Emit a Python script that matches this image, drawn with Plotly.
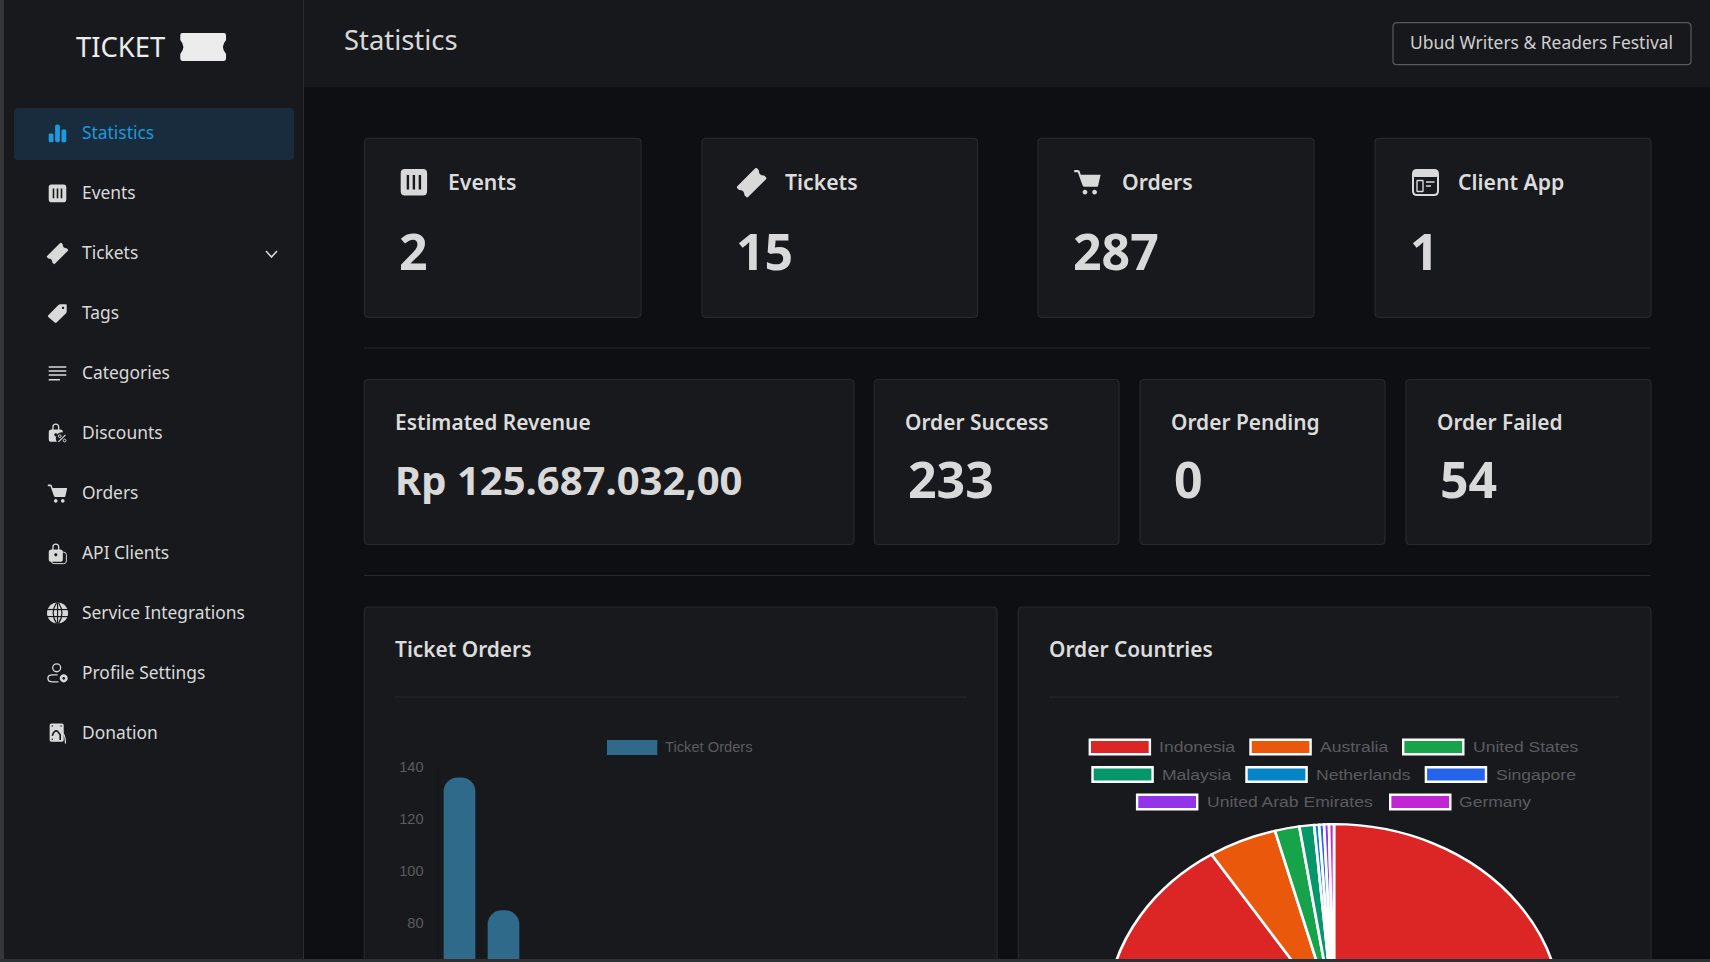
import re
import math
import plotly.graph_objects as go

# ---------- data ----------
ticket_labels = [f"Ticket {i}" for i in range(1, 13)]
# only the first two bars reach the visible part of the canvas
ticket_orders = [136, 85, None, None, None, None, None, None, None, None, None, None]
y_ticks = [80, 100, 120, 140]
countries = ["Indonesia", "Australia", "United States", "Malaysia", "Netherlands",
             "Singapore", "United Arab Emirates", "Germany"]
country_orders = [261, 14, 5, 3, 1, 1, 1, 1]
country_colors = ["#dc2626", "#ea580c", "#16a34a", "#059669", "#0284c7", "#2563eb", "#9333ea", "#c026d3"]
menu_items = ["Statistics", "Events", "Tickets", "Tags", "Categories", "Discounts", "Orders",
              "API Clients", "Service Integrations", "Profile Settings", "Donation"]
top_titles = ["Events", "Tickets", "Orders", "Client App"]
top_values = ["2", "15", "287", "1"]
mid_titles = ["Estimated Revenue", "Order Success", "Order Pending", "Order Failed"]
mid_values = ["Rp 125.687.032,00", "233", "0", "54"]

# ---------- page geometry ----------
W, H = 1710, 1220          # canvas taller than the window; the page clips at 962
BG, PANEL, EDGE = "#0e0f12", "#18191d", "#27282c"
LIGHT = "#d9d9d9"
BLUE = "#1f98dc"
FONT = "Noto Sans"
CHART_FONT = "Liberation Sans"
X = lambda x: x / W
Y = lambda y: 1 - y / H
shapes, notes = [], []


def path(d, fill=None, line=None, width=0, layer="below"):
    def conv(m):
        return f"{X(float(m.group(1))):.6f},{Y(float(m.group(2))):.6f}"
    dd = re.sub(r"(-?[\d.]+)[ ,](-?[\d.]+)", conv, d)
    shapes.append(dict(type="path", path=dd, xref="paper", yref="paper", layer=layer,
                       fillcolor=fill or "rgba(0,0,0,0)",
                       line=dict(color=line or "rgba(0,0,0,0)", width=width)))


def rr(x0, y0, x1, y1, r=0):
    if r == 0:
        return f"M{x0} {y0} L{x1} {y0} L{x1} {y1} L{x0} {y1} Z "
    return (f"M{x0+r} {y0} L{x1-r} {y0} Q{x1} {y0} {x1} {y0+r} L{x1} {y1-r} Q{x1} {y1} {x1-r} {y1} "
            f"L{x0+r} {y1} Q{x0} {y1} {x0} {y1-r} L{x0} {y0+r} Q{x0} {y0} {x0+r} {y0} Z ")


def circ(cx, cy, r):
    k = 0.5523 * r
    return (f"M{cx-r} {cy} C{cx-r} {cy-k} {cx-k} {cy-r} {cx} {cy-r} C{cx+k} {cy-r} {cx+r} {cy-k} {cx+r} {cy} "
            f"C{cx+r} {cy+k} {cx+k} {cy+r} {cx} {cy+r} C{cx-k} {cy+r} {cx-r} {cy+k} {cx-r} {cy} Z ")


def place(d, x0, y0, sx, sy=None):
    sy = sy or sx
    def conv(m):
        return f"{x0+float(m.group(1))*sx:.2f} {y0+float(m.group(2))*sy:.2f}"
    return re.sub(r"(-?[\d.]+)[ ,](-?[\d.]+)", conv, d)


def rotate(d, deg):
    a = math.radians(deg)
    def conv(m):
        x, y = float(m.group(1)) - 12, float(m.group(2)) - 12
        return f"{12+x*math.cos(a)-y*math.sin(a):.3f} {12+x*math.sin(a)+y*math.cos(a):.3f}"
    return re.sub(r"(-?[\d.]+)[ ,](-?[\d.]+)", conv, d)


def text(x, y, s, size, color=LIGHT, weight=400, font=FONT, anchor="left"):
    notes.append(dict(x=X(x), y=Y(y), xref="paper", yref="paper", text=s, showarrow=False,
                      xanchor=anchor, yanchor="middle", borderpad=0,
                      font=dict(family=font, size=size, color=color, weight=weight)))


TICKET = ("M2 6 L22 6 Q23 6 23 7 L23 9 Q20 12 23 15 L23 17 Q23 18 22 18 L2 18 Q1 18 1 17 "
          "L1 15 Q4 12 1 9 L1 7 Q1 6 2 6 Z")
I_BARS = rr(1, 12, 7, 23, 1.5) + rr(9, 1, 15, 23, 2.5) + rr(17, 7, 23, 23, 1.5)
I_EVENTS = rr(1, 1, 23, 23, 3.5) + rr(6, 6, 8, 18) + rr(11, 6, 13, 18) + rr(16, 6, 18, 18)
I_TICKET = rotate(TICKET, -45)
I_TAG = ("M2 14 L13 3 Q14 2 15 2 L21 2 Q22 2 22 3 L22 10 Q22 11 21 12 L11 22 Q10 23 9 22 L2 16 Q1 15 2 14 Z "
         + circ(18, 6, 1.3))
I_LINES = rr(1, 3, 23, 5) + rr(1, 8, 23, 10) + rr(1, 13, 23, 15) + rr(1, 19, 15, 21)
I_CART = ("M1 2 L4 2 Q5 2 5.5 3 L6.5 6 L23 6 L21 15 Q21 16 20 16 L9.5 16 Q8.5 16 8 15 L4 4 L1 4 Z "
          + circ(10, 20.5, 2) + circ(18, 20.5, 2))
I_BAG = rr(2, 8, 18, 22, 3) + circ(10, 14, 1.8)
I_DOC = rr(3, 1, 19, 22, 2) + circ(6, 4, 0.9) + circ(16, 4, 0.9) + circ(6, 19, 0.9)
HANDLE = "M6 8 L6 5 Q6 1 10 1 Q14 1 14 5 L14 8 L12.5 8 L12.5 5 Q12.5 2.5 10 2.5 Q7.5 2.5 7.5 5 L7.5 8 Z"
icons = [I_BARS, I_EVENTS, I_TICKET, I_TAG, I_LINES, None, I_CART, None, None, None, None]

# ---------- page frame ----------
path(rr(4, 0, 303, H), PANEL)                      # sidebar
path(rr(303, 0, 304, H), "#2d2e32")
path(rr(304, 0, W, 87), "#17181c")                 # top bar
path(rr(14, 108, 294, 160, 4), "#182c3d")          # active menu item

# logo
text(75, 46.5, "TICKET", 27.4, "#ececec")
path(place(TICKET, 178.2, 19, 2.08, 2.33), "#ececec")

# menu
ICX, IC0, ICY = 47, 0.88, 10.5
for i, name in enumerate(menu_items):
    cy = 132.4 + 60 * i
    col = BLUE if i == 0 else LIGHT
    text(80.5, cy, name, 17.4, col)
    if icons[i]:
        s = 0.92 if i in (2, 3) else (0.88 if i == 6 else 0.8)
        path(place(icons[i], 57.5 - 12 * s, cy + 1 - 12 * s, s), col)
# Discounts: bag and percent mark
cy = 433
path(place(I_BAG + HANDLE, ICX, cy - ICY, IC0), LIGHT)
path(place(circ(17, 18, 7), ICX, cy - ICY, IC0), PANEL)
path(place("M13 22 L21 14", ICX, cy - ICY, IC0), None, LIGHT, 1.2)
path(place(circ(14.5, 15.5, 1.6) + circ(20, 20.5, 1.6), ICX, cy - ICY, IC0), None, LIGHT, 1)
# API clients: lock bag
cy = 553
path(place(rr(5, 11, 22, 24, 3), ICX, cy - ICY, IC0), None, LIGHT, 1)
path(place(I_BAG + HANDLE, ICX, cy - ICY, IC0), LIGHT)
# Service integrations: globe
cy = 613
path(place(circ(12, 12, 12), ICX, cy - ICY, IC0), LIGHT)
for seg in ["M0 8 L24 8", "M0 16 L24 16", "M12 0 L12 24",
            "M11 0 Q3 12 11 24", "M13 0 Q21 12 13 24"]:
    path(place(seg, ICX, cy - ICY, IC0), None, PANEL, 1.2)
# Profile settings
cy = 673
path(place(circ(11, 6, 4.5), ICX, cy - ICY, IC0), None, LIGHT, 1.3)
path(place("M12 14 L6 14 Q1 14 1 18 Q1 22 6 22 L13 22", ICX, cy - ICY, IC0), None, LIGHT, 1.3)
path(place(circ(19, 18, 4.6) + circ(19, 18, 1.6), ICX, cy - ICY, IC0), LIGHT)
# Donation
cy = 733
path(place(I_DOC, ICX, cy - ICY, IC0), LIGHT)
path(place("M6 15 Q8 8 12 10 L15 14 L15 20", ICX, cy - ICY, IC0), None, PANEL, 1.6)
path(place("M15 10 Q21 12 21 24", ICX, cy - ICY, IC0), None, LIGHT, 1.2)
# chevron on the Tickets row
path("M266 251 L271.5 257 L277 251", None, "#d5d5d5", 1.6)

# header
text(342.8, 39.5, "Statistics", 27.4, "#d8d8d8")
path(rr(1393, 22.7, 1691, 64.7, 4), None, "#585a5f", 1.2)
text(1409, 42.4, "Ubud Writers & Readers Festival", 17.45, "#cfcfcf")


def card(x0, y0, x1, y1):
    path(rr(x0, y0, x1, y1, 4), PANEL, EDGE, 1.2)


# top cards
top_x = [(364.5, 641), (702, 977.5), (1038, 1314), (1375, 1651)]
top_title_x = [446.6, 783.5, 1120.6, 1457.2]
top_value_x = [398, 735, 1071.5, 1408.5]
for (a, b), tx, vx, t, v in zip(top_x, top_title_x, top_value_x, top_titles, top_values):
    card(a, 138.3, b, 317.3)
    text(tx, 181.2, t, 21.2, "#dcdcdc", 600)
    text(vx, 251, v, 50, "#d9d9d9", 700)
path(place(I_EVENTS, 399.5, 167.8, 1.2), "#d9d9d9")
path(place(I_TICKET, 736.4, 167.5, 1.27), "#d9d9d9")
path(place(I_CART, 1073, 167.5, 1.2), "#d9d9d9")
path(rr(1413, 170, 1438, 195, 4), None, "#d9d9d9", 2)
path(rr(1413, 170, 1438, 177, 2), "#d9d9d9")
path(rr(1417, 180.5, 1423, 191.5, 0.5), None, "#d9d9d9", 1.4)
path("M1426 182 L1434.5 182 M1426 186 L1431 186", None, "#d9d9d9", 1.4)

# dividers
path(rr(364, 347.5, 1651, 348.5), "#26272b")
path(rr(364, 575, 1651, 576), "#26272b")

# middle cards
mid_x = [(364.3, 854), (874.3, 1119), (1140, 1385), (1406, 1651)]
mid_title_x = [394, 904, 1170, 1436]
mid_value_x = [393.8, 906.7, 1172.7, 1438.7]
mid_size = [40, 50, 50, 50]
for (a, b), tx, vx, t, v, fs in zip(mid_x, mid_title_x, mid_value_x, mid_titles, mid_values, mid_size):
    card(a, 379.5, b, 544.5)
    text(tx, 422, t, 20.9, "#dcdcdc", 600)
    text(vx, 479.4, v, fs, "#d9d9d9", 700)

# chart panels
card(364.3, 607, 997, H - 5)
card(1018.3, 607, 1651, H - 5)
text(393.8, 648.8, "Ticket Orders", 20.9, "#dcdcdc", 600)
text(1048, 648.8, "Order Countries", 20.9, "#dcdcdc", 600)
path(rr(395, 696.5, 967, 697.5), "#2a2b2f")
path(rr(1049, 696.5, 1619, 697.5), "#2a2b2f")

# legends (swatch + label, chart.js style boxes)
LEG_TXT = "#5b5b60"
BAR_COLOR = "#306a8b"
path(rr(607, 740, 657.3, 755), BAR_COLOR)
text(664, 747, "Ticket Orders", 14.7, LEG_TXT, font=CHART_FONT)
leg_pos = [(1088.6, 1158.7, 747), (1249.3, 1319.4, 747), (1402, 1472, 747),
           (1091.3, 1161.8, 774.5), (1245.3, 1315.8, 774.5), (1424.7, 1495.3, 774.5),
           (1135.9, 1206, 802), (1389, 1458.7, 802)]
for (sx, tx, cy), name, col in zip(leg_pos, countries, country_colors):
    path(rr(sx + 1.2, cy - 7.3, sx + 61.3, cy + 7.3), col, "#ffffff", 2.4)
    text(tx - 0.5, cy, name, 14.8, LEG_TXT, font=CHART_FONT)

# window edges, above the pie
path(rr(0, 0, 4, H), "#34363a", layer="above")
path(rr(0, 959, W, H), "#2e3034", layer="above")

# ---------- charts ----------
y_zero, y_top = 1131.7, 767
# the reference's pie canvas is stretched sideways
pie_cx, pie_cy, pie_r, pie_stretch = 1334, 1016, 191.8, 1.185
fig = go.Figure()
fig.add_trace(go.Bar(x=ticket_labels, y=ticket_orders, marker=dict(color=BAR_COLOR, cornerradius=14),
                     name="Ticket Orders", showlegend=False))
fig.add_trace(go.Pie(labels=countries, values=country_orders, sort=False, direction="clockwise", rotation=0,
                     textinfo="none", showlegend=False,
                     marker=dict(colors=country_colors, line=dict(color="#ffffff", width=2.3)),
                     domain=dict(x=[X(pie_cx - pie_r), X(pie_cx + pie_r)],
                                 y=[Y(pie_cy + pie_r), Y(pie_cy - pie_r)])))
GRID = "rgba(0,0,0,0.04)"
fig.update_layout(
    template="none",
    width=W, height=H, margin=dict(l=0, r=0, t=0, b=0), autosize=False,
    paper_bgcolor=BG, plot_bgcolor="rgba(0,0,0,0)", bargap=0.28, showlegend=False,
    shapes=shapes, annotations=notes,
    xaxis=dict(domain=[X(437.5), X(965.5)], type="category", range=[-0.5, 11.5], tickson="boundaries",
               showgrid=True, gridcolor=GRID, showline=True, linecolor=GRID, showticklabels=False,
               ticks="", fixedrange=True, zeroline=False, automargin=False),
    yaxis=dict(domain=[Y(y_zero), Y(y_top)], range=[0, 140], tickvals=y_ticks, showgrid=True, gridcolor=GRID,
               showline=True, linecolor="rgba(0,0,0,0.2)", ticks="outside", ticklen=10, tickcolor=GRID,
               tickfont=dict(family=CHART_FONT, size=14.6, color=LEG_TXT), fixedrange=True, zeroline=False,
               automargin=False),
)
names_js = "[" + ",".join(f'"{c}"' for c in countries) + "]"
post = f"""
document.documentElement.style.overflow='hidden';document.documentElement.style.height='962px';
document.body.style.margin='0';document.body.style.overflow='hidden';document.body.style.height='962px';
document.body.style.background='{BG}';
function stretchPie() {{
  var k = {pie_stretch}, cx = {pie_cx};
  var layer = document.querySelector('.pielayer');
  if (layer) layer.setAttribute('transform', 'translate('+cx+' 0) scale('+k+' 1) translate('+(-cx)+' 0)');
  var names = {names_js};
  document.querySelectorAll('.annotation-text').forEach(function(t) {{
    if (names.indexOf(t.textContent) < 0 || t.getAttribute('data-stretched')) return;
    var bx = t.getBBox().x;
    t.setAttribute('transform', 'translate('+bx+' 0) scale('+k+' 1) translate('+(-bx)+' 0)');
    t.setAttribute('data-stretched', '1');
  }});
}}
stretchPie(); setTimeout(stretchPie, 100);
"""
fig.write_html("out.html", post_script=post, config=dict(displayModeBar=False))
